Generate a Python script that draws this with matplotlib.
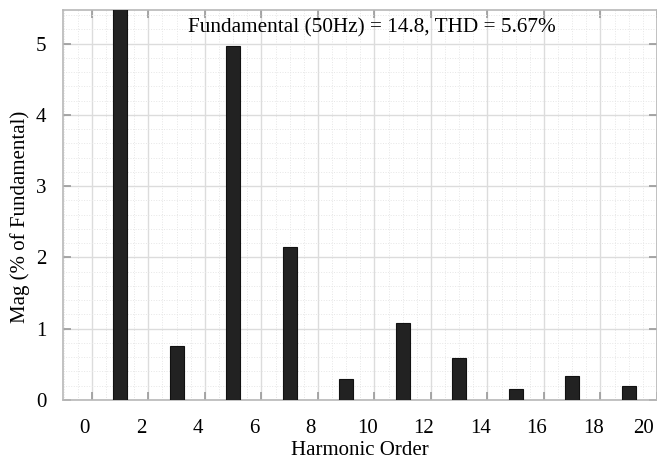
import matplotlib
matplotlib.use("Agg")
import matplotlib.pyplot as plt
import matplotlib.transforms as mtransforms
from matplotlib.ticker import MultipleLocator

harmonic_order = [1, 3, 5, 7, 9, 11, 13, 15, 17, 19]
magnitude_pct = [100.0, 0.76, 4.96, 2.15, 0.29, 1.08, 0.59, 0.16, 0.33, 0.20]
x_ticks = [0, 2, 4, 6, 8, 10, 12, 14, 16, 18, 20]
y_ticks = [0, 1, 2, 3, 4, 5]
title_text = "Fundamental (50Hz) = 14.8, THD = 5.67%"

plt.rcParams['font.family'] = ['Liberation Serif', 'DejaVu Serif']

fig = plt.figure(figsize=(6.57, 4.66), dpi=100)
ax = fig.add_axes([63/657, 66/466, (657-63)/657, (400-10)/466])

ax.bar(harmonic_order, magnitude_pct, width=0.5, color='#222222',
       edgecolor='#111111', linewidth=0.8, zorder=3)

ax.set_xlim(-1.02, 20.0)
ax.set_ylim(0, 5.47)
ax.set_xticks(x_ticks)
ax.set_yticks(y_ticks)
ax.xaxis.set_minor_locator(MultipleLocator(0.5))
ax.yaxis.set_minor_locator(MultipleLocator(0.2))

ax.grid(which='major', color='#dcdcdc', linewidth=1.0, zorder=0)
ax.grid(which='minor', color='#e6e6e6', linewidth=0.7, linestyle=':', zorder=0)
ax.set_axisbelow(True)

for s in ax.spines.values():
    s.set_color('#b8b8b8')
    s.set_linewidth(1.2)

ax.tick_params(which='major', direction='in', length=6, color='#999999',
               top=True, right=True, labelsize=15, width=1.2)
ax.tick_params(which='minor', length=0)
ax.tick_params(axis='x', pad=14)
ax.tick_params(axis='y', pad=12)

# shift x tick labels slightly left as in reference
labels = ax.get_xticklabels()
for i, lbl in enumerate(labels):
    dx = -7 if i < len(labels) - 1 else -13
    off = mtransforms.ScaledTranslation(dx/100, 0, fig.dpi_scale_trans)
    lbl.set_transform(lbl.get_transform() + off)

ax.set_xlabel("Harmonic Order", fontsize=15, labelpad=2)
ax.set_ylabel("Mag (% of Fundamental)", fontsize=15)
ax.yaxis.set_label_coords(-0.055, 0.469)

ax.text(0.52, 0.955, title_text, transform=ax.transAxes, ha='center',
        va='center', fontsize=15.3, zorder=5)

fig.savefig("out.png", dpi=100)
